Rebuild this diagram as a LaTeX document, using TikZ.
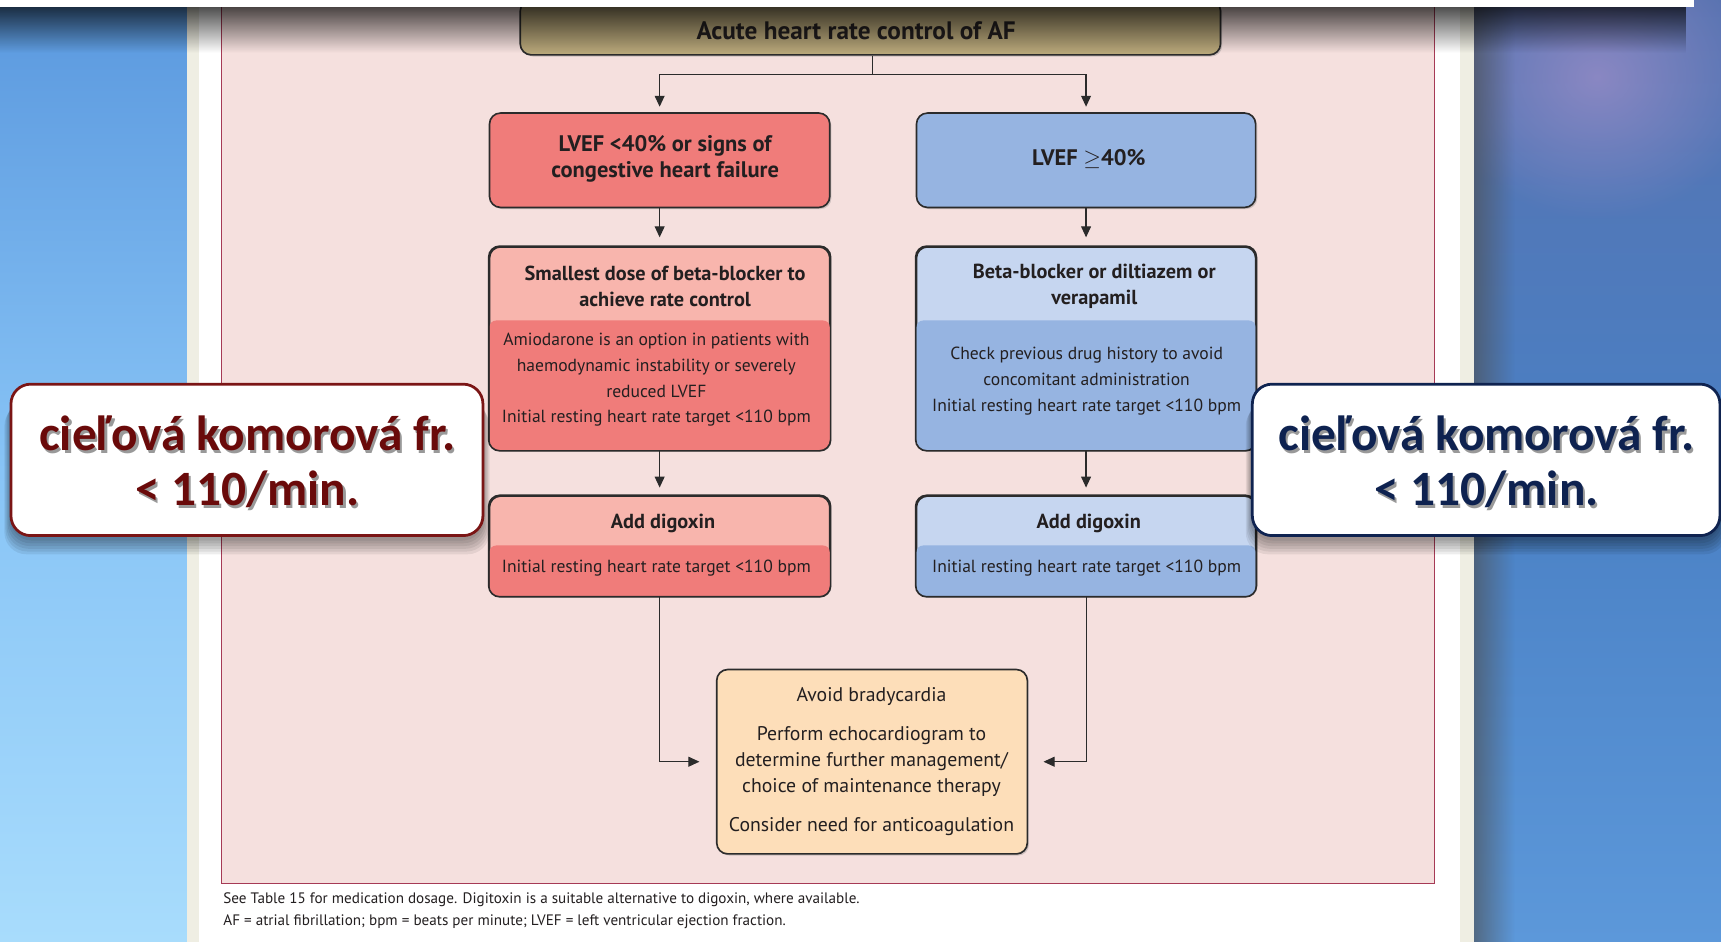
\documentclass[tikz,border=0pt]{standalone}
\usepackage{fontspec}
\usetikzlibrary{arrows.meta,shadows,fadings}
\newfontfamily\gill{PT Sans}
\newfontfamily\calib{Carlito}

\definecolor{bgLtop}{HTML}{5A98DE}
\definecolor{bgLmid}{HTML}{88C4F6}
\definecolor{bgLbot}{HTML}{A8DCFC}
\definecolor{bgRtop}{HTML}{5672B0}
\definecolor{bgRmid}{HTML}{4A80C4}
\definecolor{bgRbot}{HTML}{5C98DA}
\definecolor{glow}{HTML}{9C8EC8}
\definecolor{cream}{HTML}{EFEEE3}
\definecolor{pinkbg}{HTML}{F5E0DE}
\definecolor{panelline}{HTML}{A63A55}
\definecolor{titlefill}{HTML}{B8A77A}
\definecolor{redbox}{HTML}{F07C7A}
\definecolor{redlt}{HTML}{F8B5AD}
\definecolor{bluebox}{HTML}{96B4E1}
\definecolor{bluelt}{HTML}{C6D6F0}
\definecolor{peach}{HTML}{FDDEB9}
\definecolor{boxline}{HTML}{2B2B2B}
\definecolor{txt}{HTML}{231F20}
\definecolor{calred}{HTML}{6A0A0A}
\definecolor{calredline}{HTML}{7B1515}
\definecolor{calnavy}{HTML}{0E2250}
\definecolor{calnavyline}{HTML}{0F2350}

\tikzfading[name=fadedown, top color=transparent!30, bottom color=transparent!100]
\tikzfading[name=glowfade, inner color=transparent!25, outer color=transparent!100]
\tikzfading[name=fadeleft, left color=transparent!40, right color=transparent!100]

\tikzset{
  flowbox/.style={draw=boxline, line width=1.5pt, rounded corners=10pt, inner sep=0pt,
    drop shadow={shadow xshift=1.5pt, shadow yshift=-1.5pt, opacity=0.35}},
  arr/.style={draw=boxline, line width=1.1pt, -{Triangle[length=10pt,width=9pt]}},
  link/.style={draw=boxline, line width=1.1pt},
  headtext/.style={font=\gill\bfseries\fontsize{18.5}{24}\selectfont, align=center, text=txt},
  bighead/.style={font=\gill\bfseries\fontsize{20.5}{24}\selectfont, align=center, text=txt},
  bodytext/.style={font=\gill\fontsize{16}{23.5}\selectfont, align=center, text=txt},
  captext/.style={font=\gill\fontsize{13.8}{16}\selectfont, anchor=west, text=txt},
  callout/.style={fill=white, line width=2.5pt, rounded corners=18pt, inner sep=0pt},
  calltext/.style={font=\calib\bfseries\fontsize{45}{50}\selectfont, align=center},
}

\begin{document}
\begin{tikzpicture}[x=1pt,y=-1pt]
\useasboundingbox (0,0) rectangle (1568,858);

% backdrop on both sides of the page
\shade[top color=bgLtop, bottom color=bgLbot, middle color=bgLmid] (0,0) rectangle (172,858);
\shade[top color=bgRtop, bottom color=bgRbot, middle color=bgRmid] (1340,0) rectangle (1568,858);
\begin{scope}
  \clip (1340,0) rectangle (1568,858);
  \fill[glow, path fading=glowfade] (1455,70) ellipse (150 and 130);
  \fill[black!70, path fading=fadeleft] (1343,0) rectangle (1380,858);
\end{scope}

% page with its pink panel
\fill[cream] (170,0) rectangle (1343,858);
\fill[white] (181,0) rectangle (1330,858);
\filldraw[fill=pinkbg, draw=panelline, line width=0.8pt] (202,-5) rectangle (1307,805);

% flowchart boxes
\node[flowbox, fill=titlefill, minimum width=638pt, minimum height=50pt] (title) at (793,25) {};
\node[flowbox, fill=redbox, minimum width=310pt, minimum height=86pt] (l1) at (601,146) {};
\node[flowbox, fill=bluebox, minimum width=309pt, minimum height=86pt] (r1) at (989.5,146) {};
\node[flowbox, fill=redlt, minimum width=310pt, minimum height=185pt] (l2) at (601,317.5) {};
\node[flowbox, fill=bluelt, minimum width=309pt, minimum height=185pt] (r2) at (989.5,317.5) {};
\node[flowbox, fill=redlt, minimum width=310pt, minimum height=91pt] (l3) at (601,497.5) {};
\node[flowbox, fill=bluelt, minimum width=309pt, minimum height=91pt] (r3) at (989.5,497.5) {};
\node[flowbox, fill=peach, minimum width=283pt, minimum height=168pt] (bot) at (794.5,694) {};

% darker lower panels inside the two-tone boxes
\begin{scope}
  \clip[rounded corners=10pt] (l2.north west) rectangle (l2.south east);
  \fill[redbox, rounded corners=6pt] (446,292) rectangle (756,420);
\end{scope}
\begin{scope}
  \clip[rounded corners=10pt] (r2.north west) rectangle (r2.south east);
  \fill[bluebox, rounded corners=6pt] (835,292) rectangle (1144,420);
\end{scope}
\begin{scope}
  \clip[rounded corners=10pt] (l3.north west) rectangle (l3.south east);
  \fill[redbox, rounded corners=6pt] (446,497) rectangle (756,553);
\end{scope}
\begin{scope}
  \clip[rounded corners=10pt] (r3.north west) rectangle (r3.south east);
  \fill[bluebox, rounded corners=6pt] (835,497) rectangle (1144,553);
\end{scope}
\foreach \b in {l2,r2,l3,r3}
  \draw[boxline, line width=1.5pt, rounded corners=10pt] (\b.north west) rectangle (\b.south east);

% box texts
\node[headtext, font=\gill\bfseries\fontsize{23}{24}\selectfont] (titletext) at (780,28) {Acute heart rate control of AF};
\node[bighead] (l1text) at (606,145) {LVEF <40\% or signs of\\congestive heart failure};
\node[bighead] (r1text) at (992,145) {LVEF $\geq$40\%};
\node[headtext] (l2head) at (606,261) {Smallest dose of beta-blocker to\\achieve rate control};
\node[bodytext] (l2body) at (598,346) {Amiodarone is an option in patients with\\haemodynamic instability or severely\\reduced LVEF\\Initial resting heart rate target <110 bpm};
\node[headtext] (r2head) at (997,261) {Beta-blocker or diltiazem or\\verapamil};
\node[bodytext] (r2body) at (990,347) {Check previous drug history to avoid\\concomitant administration\\Initial resting heart rate target <110 bpm};
\node[headtext] (l3head) at (604,477) {Add digoxin};
\node[bodytext] (l3body) at (598,518) {Initial resting heart rate target <110 bpm};
\node[headtext] (r3head) at (992,477) {Add digoxin};
\node[bodytext] (r3body) at (990,518) {Initial resting heart rate target <110 bpm};
\node[bodytext, font=\gill\fontsize{18}{23.5}\selectfont] (bottext) at (794,694)
  {Avoid bradycardia\\[12pt]Perform echocardiogram to\\determine further management/\\choice of maintenance therapy\\[12pt]Consider need for anticoagulation};

% connectors
\coordinate (split) at (795,68);
\draw[link] (title.south -| split) -- (split);
\draw[arr, shorten >=5pt] (split) -| (l1.north);
\draw[arr, shorten >=5pt] (split) -| (r1.north);
\draw[arr, shorten >=8pt] (l1) -- (l2);
\draw[arr, shorten >=8pt] (r1) -- (r2);
\draw[arr, shorten >=7pt] (l2) -- (l3);
\draw[arr, shorten >=7pt] (r2) -- (r3);
\draw[arr, line width=0.9pt, shorten >=15pt] (l3.south) |- (bot.west);
\draw[arr, line width=0.9pt, shorten >=14pt] (r3.south) |- (bot.east);

% captions under the panel
\node[captext] (cap1) at (200,820) {See Table 15 for medication dosage. Digitoxin is a suitable alternative to digoxin, where available.};
\node[captext] (cap2) at (200,840) {AF = atrial fibrillation; bpm = beats per minute; LVEF = left ventricular ejection fraction.};

% shadow under the top bar, then the bar itself
\fill[black, path fading=fadedown] (0,6) rectangle (1543,48);
\fill[white] (0,0) rectangle (1543,6);

% callouts with soft shadows
\foreach \k in {1,...,6} {
  \fill[black, opacity=0.07, rounded corners=20pt] (10-\k,356+\k*2) rectangle (440+\k,490+\k*2.5);
  \fill[black, opacity=0.07, rounded corners=20pt] (1141-\k,356+\k*2) rectangle (1567+\k,490+\k*2.5);
}
\node[callout, draw=calredline, minimum width=430pt, minimum height=138pt] (calL) at (225,419) {};
\node[callout, draw=calnavyline, minimum width=426pt, minimum height=138pt] (calR) at (1354,419) {};
\node[calltext, text=black!40] (calLshadow) at (227.5,423.5) {cieľová komorová fr.\\< 110/min.};
\node[calltext, text=calred] (calLtext) at (225.5,421) {cieľová komorová fr.\\< 110/min.};
\node[calltext, text=black!40] (calRshadow) at (1356.5,423.5) {cieľová komorová fr.\\< 110/min.};
\node[calltext, text=calnavy] (calRtext) at (1354.5,421) {cieľová komorová fr.\\< 110/min.};
\end{tikzpicture}
\end{document}
